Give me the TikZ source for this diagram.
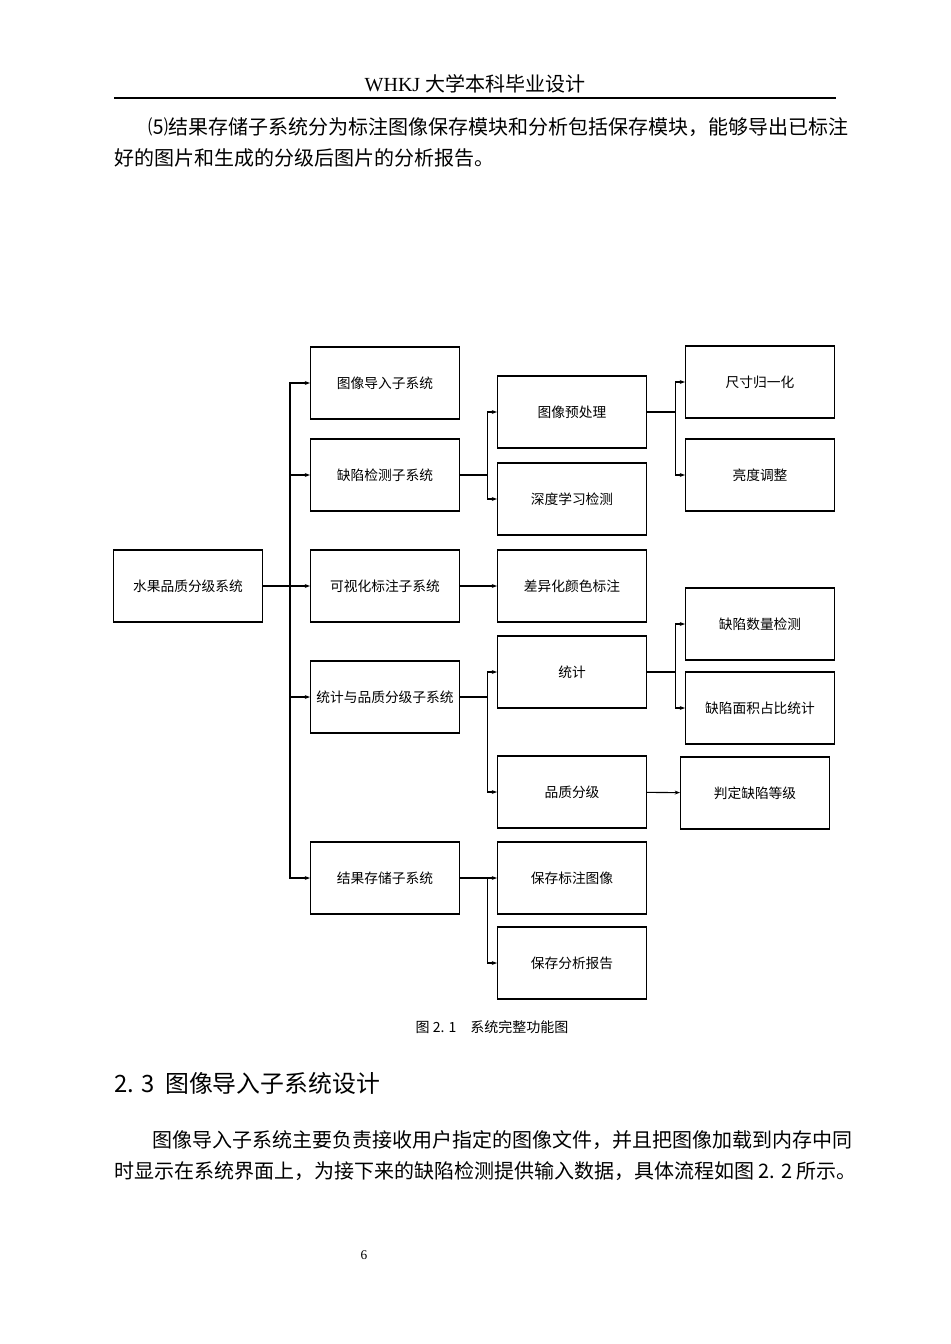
\documentclass[tikz,border=0pt]{standalone}
\usepackage{fontspec}
\setmainfont{Liberation Serif}
\newfontfamily\cjk{Noto Sans CJK SC}
\usetikzlibrary{positioning,arrows.meta}

\begin{document}
\begin{tikzpicture}[x=0.75pt,y=-0.75pt,
  box/.style={draw, thick, minimum width=149*0.75pt, minimum height=72*0.75pt,
    inner sep=0pt, font=\cjk\fontsize{10.3pt}{12pt}\selectfont},
  body/.style={anchor=west, inner sep=0pt, font=\cjk\fontsize{15pt}{18pt}\selectfont},
  link/.style={thick, -{Stealth[length=4pt,width=3pt]}},
  line/.style={thick}]
\useasboundingbox (0,0) rectangle (950,1344);
% page text
\node[inner sep=0pt, font=\fontsize{15pt}{18pt}\selectfont] (head) at (475,84) {WHKJ {\cjk 大学本科毕业设计}};
\draw[thick] (114,98) -- (836,98);
\node[body] (p1) at (148,127) {⑸结果存储子系统分为标注图像保存模块和分析包括保存模块，能够导出已标注};
\node[body] (p2) at (114,158) {好的图片和生成的分级后图片的分析报告。};
\node[inner sep=0pt, font=\cjk\fontsize{10.5pt}{12pt}\selectfont] (cap) at (492,1027) {图 2. 1\quad 系统完整功能图};
\node[anchor=west, inner sep=0pt, font=\cjk\fontsize{17.9pt}{20pt}\selectfont] (sec) at (114,1083) {2. 3\ \ 图像导入子系统设计};
\node[body] (p3) at (152,1140) {图像导入子系统主要负责接收用户指定的图像文件，并且把图像加载到内存中同};
\node[body] (p4) at (114,1171) {时显示在系统界面上，为接下来的缺陷检测提供输入数据，具体流程如图 2. 2 所示。};
\node[inner sep=0pt, font=\fontsize{10pt}{12pt}\selectfont] (pg) at (364,1255) {6};

% boxes
\node[box] (root) at (188,586) {水果品质分级系统};
\node[box] (imp) at (385,383) {图像导入子系统};
\node[box] (det) at (385,475) {缺陷检测子系统};
\node[box] (vis) at (385,586) {可视化标注子系统};
\node[box] (sta) at (385,697) {统计与品质分级子系统};
\node[box] (sav) at (385,878) {结果存储子系统};
\node[box] (pre) at (572,412) {图像预处理};
\node[box] (dl) at (572,499) {深度学习检测};
\node[box] (col) at (572,586) {差异化颜色标注};
\node[box] (cnt) at (572,672) {统计};
\node[box] (grd) at (572,792) {品质分级};
\node[box] (sim) at (572,878) {保存标注图像};
\node[box] (srp) at (572,963) {保存分析报告};
\node[box] (siz) at (760,382) {尺寸归一化};
\node[box] (bri) at (760,475) {亮度调整};
\node[box] (num) at (760,624) {缺陷数量检测};
\node[box] (are) at (760,708) {缺陷面积占比统计};
\node[box] (lev) at (755,793) {判定缺陷等级};

% connectors
\coordinate (t0) at (290,586);
\draw[line] (root) -- (t0);
\foreach \n in {imp,det,vis,sta,sav}
  \draw[link] (t0) |- (\n.west);
\foreach \a/\b in {det/pre,det/dl,sta/cnt,sta/grd,sav/sim,sav/srp}
  \draw[link] (\a.east) -- ++(27,0) |- (\b.west);
\draw[link] (vis) -- (col);
\foreach \a/\b in {pre/siz,pre/bri,cnt/num,cnt/are}
  \draw[link] (\a.east) -- ++(28,0) |- (\b.west);
\draw[link] (grd) -- (lev);
\end{tikzpicture}
\end{document}
